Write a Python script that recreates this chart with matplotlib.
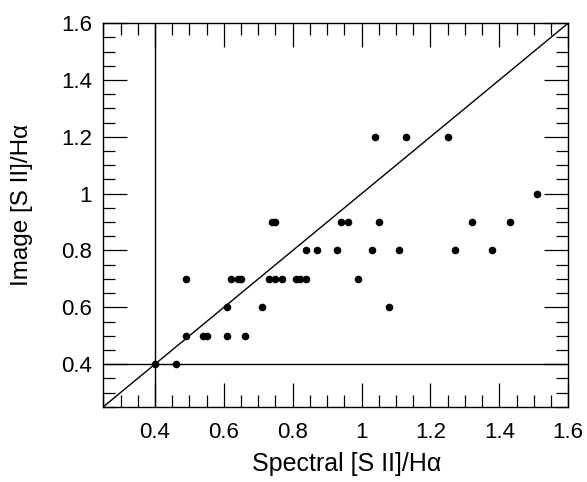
import matplotlib
matplotlib.use('Agg')
import matplotlib.pyplot as plt
from matplotlib.ticker import MultipleLocator

# Spectral vs image [S II]/Halpha ratios
spectral = [0.40, 0.46,
            0.49, 0.54, 0.55, 0.61, 0.66,
            0.61, 0.71, 1.08,
            0.49, 0.62, 0.64, 0.65, 0.73, 0.75, 0.77, 0.81, 0.82, 0.84, 0.99,
            0.84, 0.87, 0.93, 1.03, 1.11, 1.27, 1.38,
            0.74, 0.75, 0.94, 0.96, 1.05, 1.32, 1.43,
            1.51,
            1.04, 1.13, 1.25]
image = [0.4, 0.4,
         0.5, 0.5, 0.5, 0.5, 0.5,
         0.6, 0.6, 0.6,
         0.7, 0.7, 0.7, 0.7, 0.7, 0.7, 0.7, 0.7, 0.7, 0.7, 0.7,
         0.8, 0.8, 0.8, 0.8, 0.8, 0.8, 0.8,
         0.9, 0.9, 0.9, 0.9, 0.9, 0.9, 0.9,
         1.0,
         1.2, 1.2, 1.2]

xticks = [0.4, 0.6, 0.8, 1.0, 1.2, 1.4, 1.6]
xticklabels = ['0.4', '0.6', '0.8', '1', '1.2', '1.4', '1.6']
yticks = [0.4, 0.6, 0.8, 1.0, 1.2, 1.4, 1.6]
yticklabels = ['0.4', '0.6', '0.8', '1', '1.2', '1.4', '1.6']
limit = 0.4

plt.rcParams['font.family'] = ['Liberation Sans', 'DejaVu Sans']

fig = plt.figure(figsize=(5.87, 4.82), dpi=100)
ax = fig.add_axes([0.176, 0.156, 0.792, 0.796])

ax.plot([0.25, 1.6], [0.25, 1.6], color='black', linewidth=1.0)
ax.axvline(limit, color='black', linewidth=1.0)
ax.axhline(limit, color='black', linewidth=1.0)
ax.scatter(spectral, image, s=30, color='black', zorder=3, linewidths=0)

ax.set_xlim(0.25, 1.6)
ax.set_ylim(0.25, 1.6)
ax.set_xticks(xticks)
ax.set_xticklabels(xticklabels)
ax.set_yticks(yticks)
ax.set_yticklabels(yticklabels)
ax.xaxis.set_minor_locator(MultipleLocator(0.05))
ax.yaxis.set_minor_locator(MultipleLocator(0.05))
ax.tick_params(which='both', direction='in', top=True, right=True, width=0.9,
               labelsize=16)
ax.tick_params(which='major', length=17)
ax.tick_params(which='minor', length=8.5)
ax.tick_params(axis='x', which='major', pad=11)
ax.tick_params(axis='y', which='major', pad=8)
for s in ax.spines.values():
    s.set_linewidth(1.0)

ax.set_xlabel('Spectral [S II]/Hα', fontsize=18)
ax.set_ylabel('Image [S II]/Hα', fontsize=17.5, va='center')
ax.xaxis.set_label_coords(0.524, -0.118)
ax.yaxis.set_label_coords(-0.175, 0.526)

fig.savefig('out.png', dpi=100)
